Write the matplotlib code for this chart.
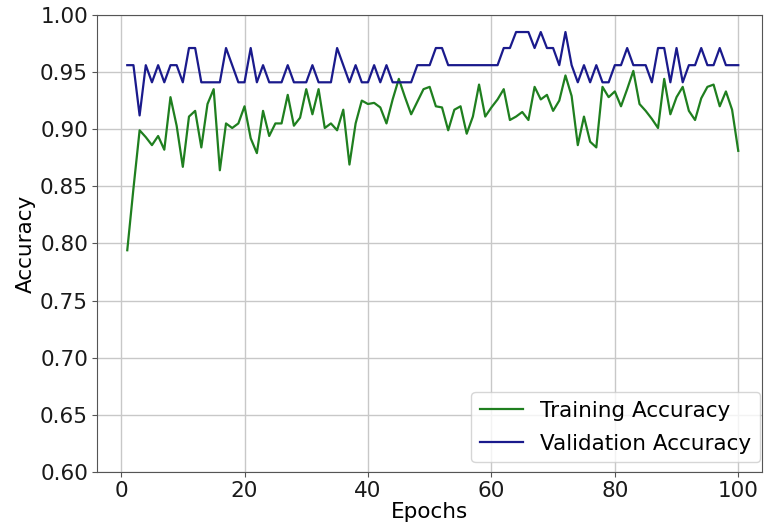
import matplotlib
matplotlib.use("Agg")
import matplotlib.pyplot as plt

epochs = list(range(1, 101))

train_acc = [
    0.794, 0.848, 0.899, 0.893, 0.886, 0.894, 0.882, 0.928, 0.903, 0.867,
    0.911, 0.916, 0.884, 0.922, 0.935, 0.864, 0.905, 0.901, 0.905, 0.920,
    0.892, 0.879, 0.916, 0.894, 0.905, 0.905, 0.930, 0.903, 0.910, 0.935,
    0.913, 0.935, 0.901, 0.905, 0.899, 0.917, 0.869, 0.905, 0.925, 0.922,
    0.923, 0.919, 0.905, 0.926, 0.944, 0.928, 0.913, 0.924, 0.935, 0.937,
    0.920, 0.919, 0.899, 0.917, 0.920, 0.896, 0.911, 0.939, 0.911, 0.919,
    0.926, 0.935, 0.908, 0.911, 0.915, 0.908, 0.937, 0.926, 0.930, 0.916,
    0.925, 0.947, 0.929, 0.886, 0.911, 0.889, 0.884, 0.937, 0.928, 0.933,
    0.920, 0.935, 0.951, 0.922, 0.916, 0.909, 0.901, 0.944, 0.913, 0.928,
    0.937, 0.916, 0.908, 0.927, 0.937, 0.939, 0.920, 0.933, 0.917, 0.881,
]

val_acc = [
    0.956, 0.956, 0.912, 0.956, 0.941, 0.956, 0.941, 0.956, 0.956, 0.941,
    0.971, 0.971, 0.941, 0.941, 0.941, 0.941, 0.971, 0.956, 0.941, 0.941,
    0.971, 0.941, 0.956, 0.941, 0.941, 0.941, 0.956, 0.941, 0.941, 0.941,
    0.956, 0.941, 0.941, 0.941, 0.971, 0.956, 0.941, 0.956, 0.941, 0.941,
    0.956, 0.941, 0.956, 0.941, 0.941, 0.941, 0.941, 0.956, 0.956, 0.956,
    0.971, 0.971, 0.956, 0.956, 0.956, 0.956, 0.956, 0.956, 0.956, 0.956,
    0.956, 0.971, 0.971, 0.985, 0.985, 0.985, 0.971, 0.985, 0.971, 0.971,
    0.956, 0.985, 0.956, 0.941, 0.956, 0.941, 0.956, 0.941, 0.941, 0.956,
    0.956, 0.971, 0.956, 0.956, 0.956, 0.941, 0.971, 0.971, 0.941, 0.971,
    0.941, 0.956, 0.956, 0.971, 0.956, 0.956, 0.971, 0.956, 0.956, 0.956,
]

plt.rcParams['font.family'] = ['DejaVu Sans']
plt.rcParams['font.size'] = 15.5

fig = plt.figure(figsize=(7.64, 5.32), dpi=100)
ax = fig.add_axes([0.127, 0.113, 0.870, 0.859])

ax.plot(epochs, train_acc, color='#1f7f1f', linewidth=1.6, label='Training Accuracy')
ax.plot(epochs, val_acc, color='#1a1a8c', linewidth=1.6, label='Validation Accuracy')

ax.set_ylim(0.60, 1.00)
ax.set_xlim(-3.9, 103.8)
ax.set_yticks([0.60, 0.65, 0.70, 0.75, 0.80, 0.85, 0.90, 0.95, 1.00])
ax.set_xticks([0, 20, 40, 60, 80, 100])
ax.set_xlabel('Epochs', labelpad=1)
ax.set_ylabel('Accuracy', labelpad=3)
ax.grid(True, color='#c8c8c8', linewidth=1.0)
for s in ax.spines.values():
    s.set_color('#555555')
ax.tick_params(colors='#555555', labelcolor='#1a1a1a', pad=3)
ax.legend(loc='lower right', handlelength=2.0, borderaxespad=0.45,
          bbox_to_anchor=(1.012, 0.0), labelspacing=0.6)

fig.savefig('out.png', dpi=100)
